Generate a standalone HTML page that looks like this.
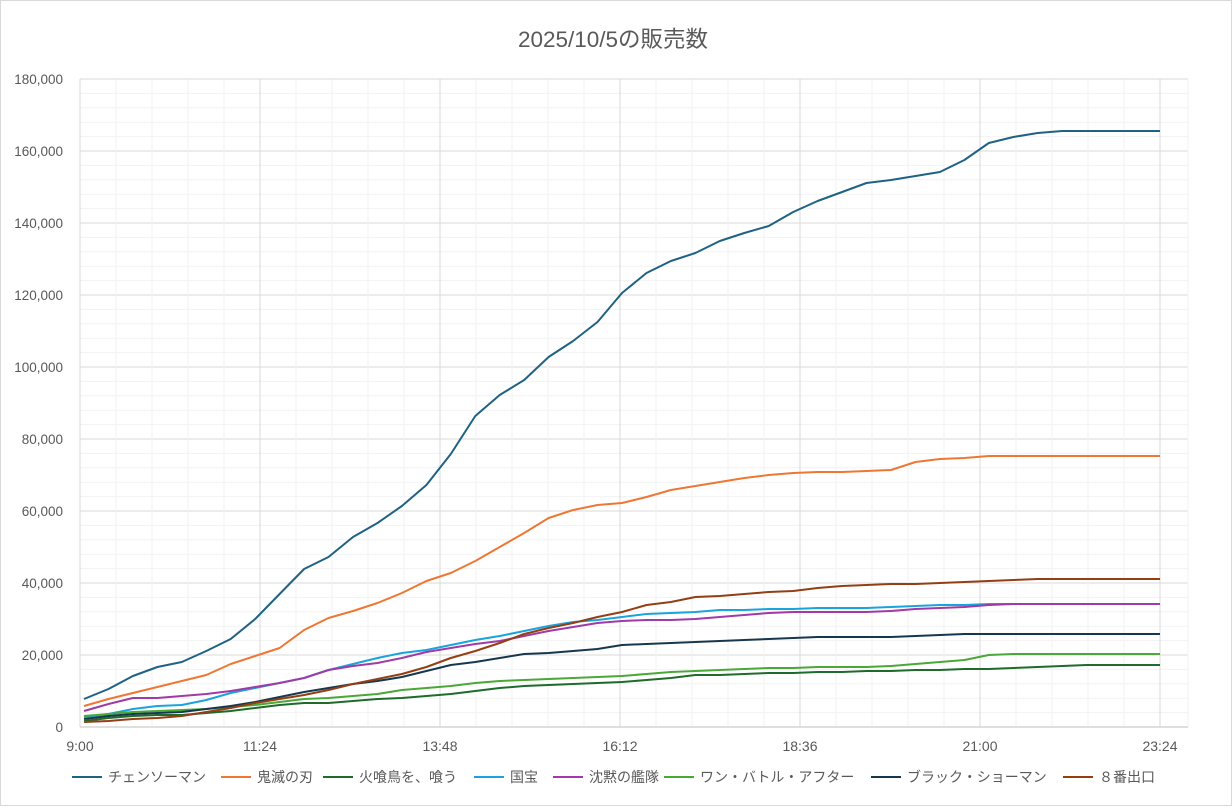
<!DOCTYPE html>
<html><head><meta charset="utf-8"><style>
body{margin:0;background:#fff;}
svg text{font-family:"Liberation Sans","Noto Sans CJK JP",sans-serif;fill:#595959;}
</style></head><body>
<svg id="s" width="1232" height="806" xmlns="http://www.w3.org/2000/svg">
<rect x="0.5" y="0.5" width="1231" height="805" fill="#fff" stroke="#d9d9d9"/>
<text x="613" y="47" font-size="22.5" text-anchor="middle">2025/10/5の販売数</text>
<g id="grid"></g>
<g id="lines" fill="none" stroke-width="2" stroke-linejoin="round"></g>
<g id="legend" font-size="14"></g>
</svg>
<script>
const ns="http://www.w3.org/2000/svg";
function el(t,a,p,txt){const e=document.createElementNS(ns,t);for(const k in a)e.setAttribute(k,a[k]);if(txt!==undefined)e.textContent=txt;p.appendChild(e);return e;}
const g=document.getElementById('grid');
const L=80,R=1188,T=79,B=727;
for(let i=0;i<=45;i++){const y=B-i*14.4;el('line',{x1:L,x2:R,y1:y,y2:y,stroke:i%5?'#f2f2f2':'#d9d9d9','stroke-width':1},g);}
for(let i=0;i<=31;i++){const x=L+i*36;if(x>R)break;el('line',{x1:x,x2:x,y1:T,y2:B,stroke:i%5?'#f2f2f2':'#d9d9d9','stroke-width':1},g);}
el('line',{x1:R,x2:R,y1:T,y2:B,stroke:'#f2f2f2'},g);
el('line',{x1:L,x2:R,y1:B,y2:B,stroke:'#bfbfbf'},g);
for(let i=0;i<=9;i++){el('text',{x:63,y:B-i*72+5,'font-size':13.5,'text-anchor':'end'},g,(i*20000).toLocaleString('en-US'));}
['9:00','11:24','13:48','16:12','18:36','21:00','23:24'].forEach((t,i)=>el('text',{x:L+i*180,y:751,'font-size':14,'text-anchor':'middle'},g,t));
const S=[
['チェンソーマン','#1f6283',[699,689,676,667,662,651,639,619,594,569,557,537,523,506,485,454,416,395,380,357,341,322,293,273,261,253,241,233,226,212,201,192,183,180,176,172,160,143,137,133,131,131,131,131,131]],
['鬼滅の刃','#ee7734',[706,699,693,687,681,675,664,656,648,630,618,611,603,593,581,573,561,547,533,518,510,505,503,497,490,486,482,478,475,473,472,472,471,470,462,459,458,456,456,456,456,456,456,456,456]],
['火喰鳥を、喰う','#1e6b2b',[721,718,716,715,715,713,711,708,705,703,703,701,699,698,696,694,691,688,686,685,684,683,682,680,678,675,675,674,673,673,672,672,671,671,670,670,669,669,668,667,666,665,665,665,665]],
['国宝','#1aa3dc',[717,714,709,706,705,700,693,688,683,678,670,664,658,653,650,645,640,636,631,626,622,620,617,614,613,612,610,610,609,609,608,608,608,607,606,605,605,604,604,604,604,604,604,604,604]],
['沈黙の艦隊','#a03aa6',[711,704,698,698,696,694,691,687,683,678,670,666,663,658,652,648,644,641,636,631,627,623,621,620,620,619,617,615,613,612,612,612,612,611,609,608,607,605,604,604,604,604,604,604,604]],
['ワン・バトル・アフター','#4aa837',[716,714,712,711,710,709,707,705,702,699,698,696,694,690,688,686,683,681,680,679,678,677,676,674,672,671,670,669,668,668,667,667,667,666,664,662,660,655,654,654,654,654,654,654,654]],
['ブラック・ショーマン','#16384f',[719,716,714,713,712,709,706,702,697,692,688,684,681,677,671,665,662,658,654,653,651,649,645,644,643,642,641,640,639,638,637,637,637,637,636,635,634,634,634,634,634,634,634,634,634]],
['８番出口','#943e14',[722,721,719,718,716,712,708,703,699,695,690,684,679,674,667,658,651,643,634,628,623,617,612,605,602,597,596,594,592,591,588,586,585,584,584,583,582,581,580,579,579,579,579,579,579]]
];
const lg=document.getElementById('lines'),leg=document.getElementById('legend');
S.forEach(s=>{const pts=s[2].map((y,i)=>(84+i*(1160-84)/44).toFixed(1)+','+y).join(' ');el('polyline',{points:pts,stroke:s[1]},lg);});
let xs=[72,221,323,474,553,664,871,1063];
S.forEach((s,i)=>{const x=xs[i];el('line',{x1:x,x2:x+30,y1:777,y2:777,stroke:s[1],'stroke-width':2},leg);el('text',{x:x+36,y:782},leg,s[0]);});
</script>
</body></html>
